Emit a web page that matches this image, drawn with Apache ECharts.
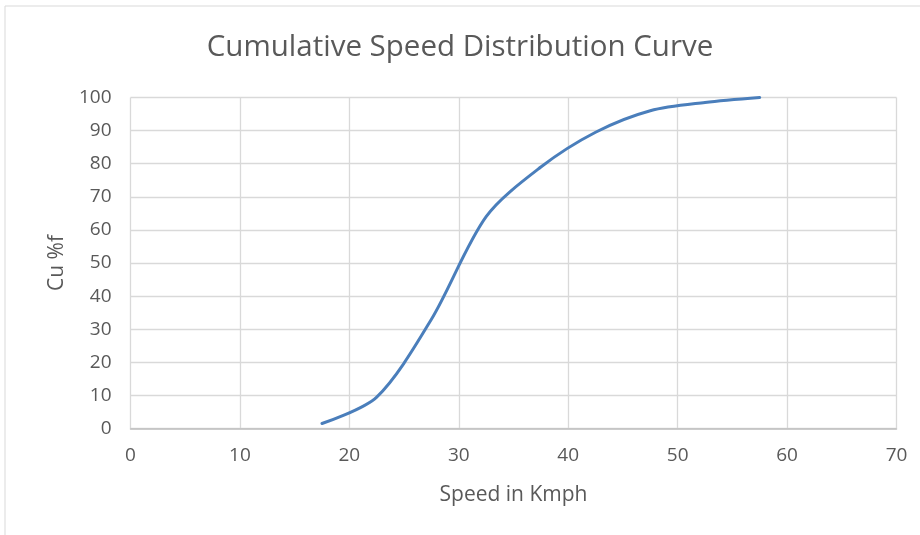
<!DOCTYPE html>
<html>
<head>
<meta charset="utf-8">
<script src="https://cdn.jsdelivr.net/npm/echarts@6/dist/echarts.min.js"></script>
<style>
html,body{margin:0;padding:0;background:#fff;}
#main{width:920px;height:535px;}
</style>
</head>
<body>
<div id="main"></div>
<script>
var speeds = [17.5, 22.5, 27.5, 32.5, 37.5, 42.5, 47.5, 52.5, 57.5];
var cumPercent = [1.5, 9.5, 33, 64, 79, 89.5, 96, 98.5, 100];
var titleText = 'Cumulative Speed Distribution Curve';
var xName = 'Speed in Kmph';
var yName = 'Cu %f';

var chart = echarts.init(document.getElementById('main'));
var pts = speeds.map(function (s, i) { return [s, cumPercent[i]]; });
var fontFam = '"Open Sans", "Noto Sans", sans-serif';
chart.setOption({
  animation: false,
  backgroundColor: '#fff',
  graphic: [{
    type: 'rect',
    shape: {x: 5, y: 6, width: 940, height: 560},
    style: {fill: 'none', stroke: '#d9d9d9', lineWidth: 1},
    silent: true
  }],
  title: {
    text: titleText,
    left: 'center',
    top: 28,
    textStyle: {fontFamily: fontFam, fontSize: 29.5, fontWeight: 'normal', color: '#595959'}
  },
  grid: {left: 130.5, right: 23.5, top: 97.5, bottom: 106.5},
  xAxis: {
    type: 'value', min: 0, max: 70, interval: 10,
    name: xName, nameLocation: 'middle', nameGap: 56,
    nameTextStyle: {fontFamily: fontFam, fontSize: 21, color: '#595959'},
    axisLine: {show: true, lineStyle: {color: '#bfbfbf', width: 1.5}},
    axisTick: {show: false},
    axisLabel: {fontFamily: fontFam, fontSize: 19, color: '#595959', margin: 18},
    splitLine: {show: true, lineStyle: {color: '#d9d9d9', width: 1.3}}
  },
  yAxis: {
    type: 'value', min: 0, max: 100, interval: 10,
    name: yName, nameLocation: 'middle', nameGap: 63, nameRotate: 90,
    nameTextStyle: {fontFamily: fontFam, fontSize: 21, color: '#595959'},
    axisLine: {show: false},
    axisTick: {show: false},
    axisLabel: {fontFamily: fontFam, fontSize: 19, color: '#595959', margin: 19},
    splitLine: {show: true, lineStyle: {color: '#d9d9d9', width: 1.3}}
  },
  series: [{
    type: 'line',
    data: pts,
    smooth: 0.3,
    showSymbol: false,
    lineStyle: {color: '#4a7ebb', width: 3, cap: 'round'}
  }]
});
</script>
</body>
</html>
